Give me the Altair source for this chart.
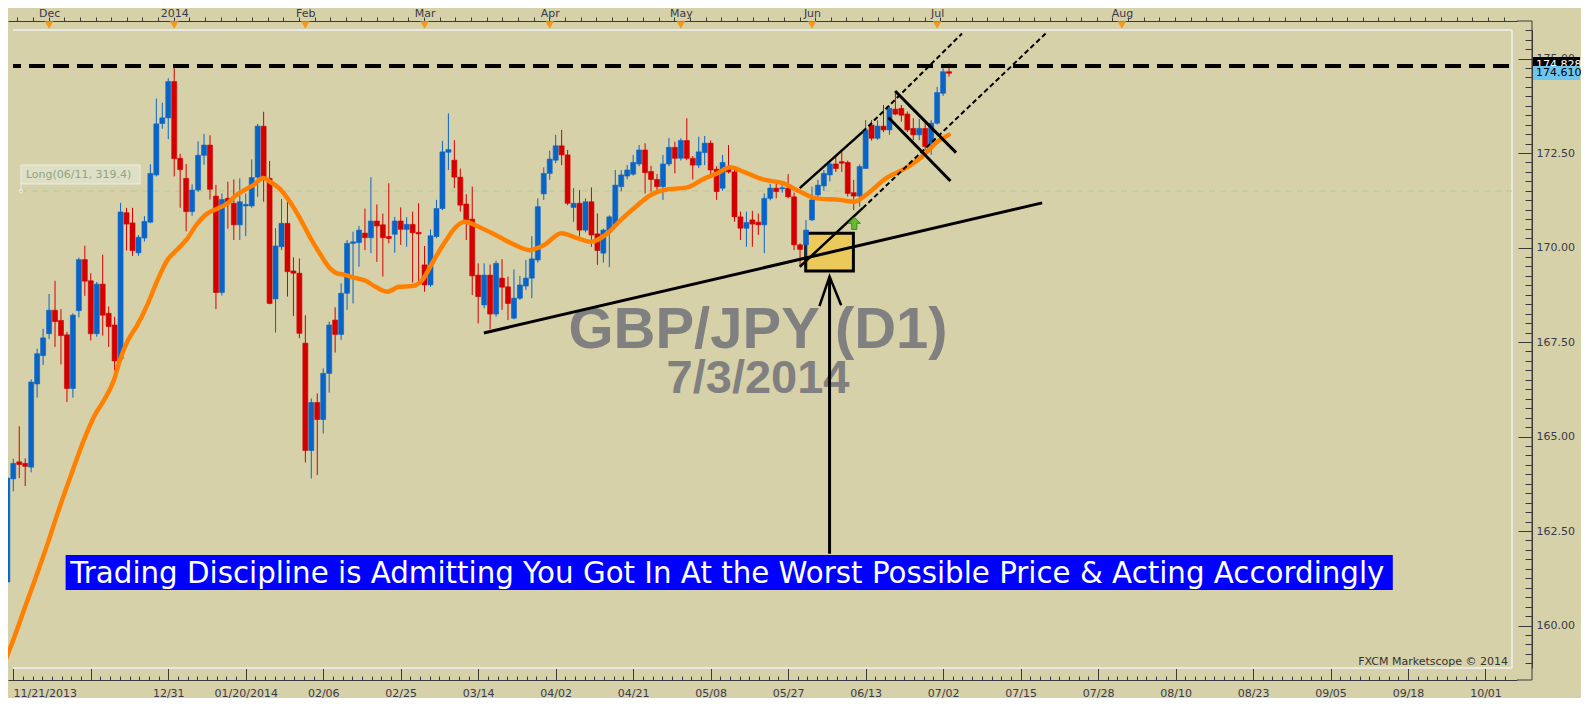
import altair as alt
import pandas as pd

# ---------------- data (GBP/JPY daily) ----------------
OPEN = [161.15, 163.88, 164.33, 164.29, 164.19, 166.39, 167.14, 167.72, 168.34, 168.07,
        167.69, 166.27, 168.33, 169.68, 169.12, 167.72, 169.03, 168.26, 167.95, 167.05,
        170.92, 170.65, 169.86, 170.25, 170.67, 171.92, 173.28, 173.43, 174.39, 172.36,
        171.83, 170.95, 171.52, 172.44, 172.71, 171.36, 168.81, 171.30, 171.17, 170.60,
        171.10, 171.10, 171.86, 173.21, 171.83, 168.64, 170.02, 170.64, 169.38, 169.32,
        167.47, 164.63, 165.90, 165.45, 166.67, 168.08, 167.70, 168.79, 170.11, 170.13,
        170.38, 170.26, 170.70, 170.60, 170.29, 170.35, 170.70, 170.48, 170.61, 170.40,
        169.54, 169.01, 170.29, 171.03, 172.52, 172.31, 171.86, 171.15, 170.75, 169.27,
        168.48, 169.27, 168.24, 169.19, 168.96, 168.13, 168.66, 168.98, 169.19, 169.67,
        171.42, 171.96, 172.31, 172.69, 172.45, 171.06, 171.17, 170.46, 171.21, 170.36,
        169.85, 170.42, 170.60, 171.61, 171.89, 171.94, 172.21, 172.58, 172.01, 171.80,
        171.61, 172.21, 172.65, 172.36, 172.83, 172.36, 172.18, 172.51, 172.76, 172.07,
        171.57, 172.10, 172.00, 170.81, 170.51, 170.73, 170.67, 170.60, 171.30, 171.57,
        171.55, 171.57, 171.34, 170.07, 170.07, 170.73, 171.39, 171.63, 171.92, 172.21,
        172.27, 172.25, 171.45, 171.36, 172.09, 173.24, 172.89, 173.21, 173.11, 173.66,
        173.68, 173.53, 173.15, 172.98, 173.15, 172.67, 173.29, 174.08, 174.65]
HIGH = [163.95, 164.41, 165.27, 164.42, 166.51, 167.32, 167.85, 168.77, 169.12, 168.37,
        167.77, 168.26, 169.73, 170.05, 169.32, 169.09, 169.81, 168.44, 168.17, 171.18,
        171.05, 171.05, 170.33, 170.83, 172.20, 173.94, 173.83, 174.48, 174.80, 172.48,
        172.21, 171.67, 172.81, 173.00, 172.97, 171.66, 171.43, 171.74, 171.80, 171.83,
        171.43, 172.33, 173.27, 173.59, 172.29, 170.51, 171.28, 171.21, 169.74, 169.71,
        168.21, 166.01, 166.14, 166.80, 168.04, 168.42, 169.05, 170.20, 170.42, 170.57,
        171.03, 171.86, 171.14, 170.90, 171.70, 170.81, 171.06, 170.80, 170.95, 171.17,
        170.04, 170.48, 171.26, 172.82, 173.55, 172.84, 172.09, 171.41, 171.61, 169.58,
        169.58, 169.55, 169.65, 169.69, 169.23, 169.42, 169.25, 169.67, 170.30, 171.30,
        172.12, 172.56, 172.98, 173.11, 172.58, 171.57, 171.52, 171.30, 171.59, 170.90,
        170.50, 170.85, 172.05, 172.05, 172.18, 172.45, 172.71, 172.76, 172.16, 171.94,
        172.45, 172.90, 172.80, 172.89, 173.42, 172.42, 172.93, 172.95, 172.83, 172.15,
        172.45, 172.71, 172.05, 170.95, 170.95, 170.97, 170.90, 171.43, 171.68, 171.68,
        171.65, 171.94, 171.45, 170.11, 170.73, 171.61, 171.79, 172.05, 172.31, 172.40,
        172.53, 172.30, 171.79, 172.20, 173.37, 173.37, 173.37, 173.77, 173.74, 174.08,
        173.77, 173.60, 173.42, 173.40, 173.30, 173.37, 174.25, 174.74, 174.87]
LOW = [160.95, 163.55, 163.90, 163.69, 164.05, 166.03, 166.89, 167.58, 167.37, 166.91,
       165.91, 166.03, 168.15, 168.72, 167.54, 167.64, 167.67, 167.37, 166.74, 167.00,
       169.92, 169.78, 169.78, 170.16, 170.64, 171.88, 173.14, 172.87, 171.88, 171.05,
       170.43, 170.84, 171.47, 172.19, 171.27, 168.37, 168.73, 170.50, 170.20, 170.20,
       170.30, 171.05, 171.34, 171.21, 168.50, 167.75, 169.93, 168.70, 168.19, 167.60,
       164.31, 163.89, 163.98, 165.08, 166.16, 167.22, 167.55, 168.35, 168.52, 169.49,
       169.93, 169.85, 169.62, 169.23, 170.11, 169.86, 170.07, 170.02, 169.07, 169.05,
       168.83, 168.96, 170.25, 170.99, 172.05, 171.57, 170.95, 170.20, 168.74, 167.99,
       168.39, 167.84, 168.17, 168.35, 168.08, 168.10, 168.61, 168.88, 168.66, 169.60,
       171.26, 171.79, 172.23, 172.18, 171.12, 170.68, 170.29, 170.40, 170.02, 169.54,
       169.60, 169.48, 170.55, 171.48, 171.80, 171.90, 172.15, 171.43, 171.48, 171.50,
       171.26, 172.15, 171.96, 172.30, 172.31, 171.80, 172.10, 172.18, 171.92, 171.26,
       171.50, 171.96, 170.68, 170.20, 170.02, 170.02, 170.33, 169.85, 171.25, 171.30,
       171.45, 171.30, 169.93, 169.50, 169.71, 170.70, 171.30, 171.50, 171.75, 172.00,
       172.00, 171.35, 170.99, 171.08, 172.09, 172.83, 172.85, 173.05, 172.98, 173.50,
       173.33, 173.05, 172.84, 172.84, 172.58, 172.45, 173.25, 174.01, 174.52]
CLOSE = [163.90, 164.29, 164.26, 164.21, 166.44, 167.19, 167.61, 168.34, 168.04, 167.67,
         166.27, 168.21, 169.68, 169.11, 167.72, 169.03, 168.21, 167.91, 167.00, 170.94,
         170.62, 169.92, 170.27, 170.69, 171.96, 173.27, 173.43, 174.39, 172.35, 172.06,
         170.95, 171.52, 172.44, 172.71, 171.54, 168.81, 171.27, 171.20, 170.60, 171.21,
         171.14, 171.85, 173.21, 171.86, 168.52, 170.04, 170.64, 169.36, 169.32, 167.73,
         164.63, 165.90, 165.45, 166.67, 167.95, 167.70, 168.79, 170.11, 170.15, 170.46,
         170.26, 170.70, 170.57, 170.26, 170.24, 170.70, 170.48, 170.61, 170.39, 170.36,
         169.01, 170.31, 171.03, 172.53, 172.59, 171.86, 171.12, 170.73, 169.25, 168.70,
         169.27, 168.24, 169.58, 168.95, 168.52, 168.66, 169.01, 169.19, 169.70, 171.08,
         171.96, 172.34, 172.69, 172.45, 171.17, 171.17, 170.46, 171.21, 170.33, 169.92,
         170.46, 170.81, 171.65, 171.92, 172.05, 172.25, 172.58, 171.98, 171.80, 171.61,
         172.21, 172.65, 172.36, 172.83, 172.36, 172.18, 172.53, 172.76, 172.05, 171.48,
         172.25, 172.00, 170.81, 170.51, 170.66, 170.62, 170.60, 171.30, 171.57, 171.48,
         171.58, 171.34, 170.07, 169.95, 170.46, 171.26, 171.65, 171.96, 172.21, 172.09,
         172.23, 171.43, 171.36, 172.14, 173.11, 172.89, 173.21, 173.11, 173.68, 173.53,
         173.50, 173.11, 172.98, 173.15, 172.67, 173.29, 174.10, 174.65, 174.61]

# moving average (orange): bar position and price
MA_IDX = [-0.38, 1.0, 3.0, 5.17, 6.83, 8.5, 10.73, 12.95, 14.62, 16.28, 17.95, 18.78, 20.12,
          21.78, 23.45, 25.12, 26.78, 28.45, 30.12, 31.78, 33.45, 35.12, 36.78, 38.45, 40.12,
          41.28, 42.95, 44.07, 45.73, 47.4, 49.07, 50.73, 52.4, 54.07, 55.12, 56.78, 57.95,
          60.12, 61.78, 63.78, 65.73, 67.95, 69.62, 71.28, 73.45, 75.12, 76.78, 79.07, 82.4,
          85.12, 87.62, 90.12, 92.95, 95.73, 97.95, 100.73, 102.95, 105.73, 107.95, 110.12,
          114.07, 116.78, 119.07, 121.28, 123.45, 126.78, 130.12, 132.95, 135.73, 139.62,
          142.12, 144.07, 147.4, 150.73, 153.45, 155.73, 157.95]
MA_VAL = [159.05, 159.62, 160.50, 161.45, 162.20, 163.00, 164.00, 164.95, 165.55, 165.98,
          166.52, 166.97, 167.51, 167.94, 168.47, 169.11, 169.65, 169.94, 170.22, 170.61,
          170.89, 171.02, 171.15, 171.39, 171.55, 171.65, 171.84, 171.74, 171.55, 171.21,
          170.78, 170.29, 169.85, 169.46, 169.33, 169.27, 169.21, 169.12, 168.96, 168.83,
          168.96, 168.98, 169.14, 169.59, 170.15, 170.52, 170.68, 170.55, 170.29, 170.07,
          169.93, 170.07, 170.38, 170.24, 170.15, 170.38, 170.73, 171.12, 171.39, 171.52,
          171.59, 171.81, 171.96, 172.12, 172.01, 171.80, 171.70, 171.48, 171.30, 171.26,
          171.21, 171.39, 171.83, 172.10, 172.40, 172.76, 172.98]

# ---------------- layout (x in bar positions, 6 px per bar) ----------------
W, H = 1509, 638
X0, X1 = 0.95, 252.45
Y0, Y1 = 158.876, 175.754

MONTH_IDX = [7, 28, 50, 70, 91, 113, 135, 156, 187]
MONTH_LABELS = ["Dec", "2014", "Feb", "Mar", "Apr", "May", "Jun", "Jul", "Aug"]
DATE_IDX = [X0, 27, 40, 53, 66, 79, 92, 105, 118, 131, 144, 157, 170, 183, 196, 209,
            222, 235, 248]
DATE_LABELS = ["11/21/2013", "12/31", "01/20/2014", "02/06", "02/25", "03/14", "04/02",
               "04/21", "05/08", "05/27", "06/13", "07/02", "07/15", "07/28", "08/10",
               "08/23", "09/05", "09/18", "10/01"]
PRICE_TICKS = [160.0, 162.5, 165.0, 167.5, 170.0, 172.5, 175.0]

RESIST_PRICE = 174.80
LONG_PRICE = 171.495
LAST_HIGH_TAG = "174.828"
LAST_TAG = "174.610"

# annotation drawing (bar position, price)
SUPPORT = [(79.95, 167.74), (173.62, 171.18)]
CH_UP_SOLID = [(132.95, 171.57), (143.5, 173.06)]
CH_LO_SOLID = [(132.95, 169.49), (143.5, 171.04)]
CH_UP_DASH = [(143.5, 173.06), (160.17, 175.66)]
CH_LO_DASH = [(143.5, 171.04), (174.2, 175.66)]
FLAG_TOP = [(148.95, 174.14), (159.17, 172.51)]
FLAG_BOT = [(147.83, 173.44), (158.23, 171.76)]
ARROW_SHAFT = [(137.95, 161.9), (137.95, 169.23)]
ARROW_HEAD = [(136.25, 168.45), (137.95, 169.23), (139.9, 168.47)]
BOX = (133.95, 141.95, 169.38, 170.38)
GREEN_ARROW = (142.1, 170.64)

BANNER_TEXT = ("Trading Discipline is Admitting You Got In At the Worst Possible Price "
               "& Acting Accordingly")

XS = alt.Scale(domain=[X0, X1], nice=False, zero=False)
YS = alt.Scale(domain=[Y0, Y1], nice=False, zero=False)

BG = "#D6D1A8"
AX = "#3A3A3A"
LBL = "#3A3A4A"
BLUE = "#0A64C8"
RED = "#D40000"
FONT = "DejaVu Sans"

N = len(OPEN)
candles = pd.DataFrame({"idx": list(range(N)), "o": OPEN, "h": HIGH, "l": LOW, "c": CLOSE})
candles["col"] = [BLUE if c >= o else RED for o, c in zip(OPEN, CLOSE)]
ma = pd.DataFrame({"idx": MA_IDX, "v": MA_VAL})

Y_MINOR = [round(159.0 + 0.25 * k, 2) for k in range(68)]
BOTTOM_MAJOR = [X0] + [14 + 13 * k for k in range(19)]
BOTTOM_MINOR = [14 - 1.625 * j for j in range(1, 9)] + [
    14 + 13 * k + 1.625 * j for k in range(19) for j in range(1, 8)
    if 14 + 13 * k + 1.625 * j <= X1]
TOP_MINOR = [round(1.667 + 2.625 * k, 3) for k in range(100) if 1.667 + 2.625 * k <= X1]


def lab_expr(vals, labels):
    av = "[" + ",".join(repr(v) for v in vals) + "]"
    al = "[" + ",".join("'" + s + "'" for s in labels) + "]"
    return f"indexof({av}, datum.value) >= 0 ? {al}[indexof({av}, datum.value)] : ''"


common = dict(grid=False, title=None, domainColor=AX, tickColor=AX, labelColor=LBL,
              labelFont=FONT, labelFontSize=11, domainWidth=1, tickWidth=1, zindex=0)

top_ticks_axis = alt.Axis(orient="top", offset=9, values=TOP_MINOR, labels=False,
                          tickSize=4, domain=True, **common)
top_label_axis = alt.Axis(orient="top", offset=9, values=MONTH_IDX, ticks=False, tickSize=0,
                          domain=False, labelPadding=4.5, labelBaseline="alphabetic",
                          labelOverlap=False, labelExpr=lab_expr(MONTH_IDX, MONTH_LABELS),
                          **common)
bottom_minor_axis = alt.Axis(orient="top", offset=-(H + 12), values=BOTTOM_MINOR,
                             labels=False, tickSize=4, domain=True, **common)
bottom_major_axis = alt.Axis(orient="top", offset=-(H + 12), values=BOTTOM_MAJOR,
                             labels=False, tickSize=12, domain=False, **common)
bottom_label_axis = alt.Axis(orient="bottom", offset=12, values=DATE_IDX, ticks=False,
                             tickSize=0, domain=False, labelPadding=7,
                             labelAlign={"condition": {"test": "datum.value < 2",
                                                       "value": "left"},
                                         "value": "center"},
                             labelOverlap=False, labelExpr=lab_expr(DATE_IDX, DATE_LABELS),
                             **common)
y_minor_axis = alt.Axis(orient="left", offset=-(W + 15), values=Y_MINOR, labels=False,
                        tickSize=7, domain=True, **common)
y_major_axis = alt.Axis(orient="left", offset=-(W + 15), values=PRICE_TICKS, labels=False,
                        tickSize=14, domain=False, **common)
y_label_axis = alt.Axis(orient="right", offset=15, values=PRICE_TICKS, ticks=False,
                        tickSize=0, domain=False, labelPadding=4, format=".2f",
                        labelOverlap=False, **common)


def xq(field, axis=None):
    return alt.X(f"{field}:Q", scale=XS, axis=axis)


def yq(field, axis=None):
    return alt.Y(f"{field}:Q", scale=YS, axis=axis)


def seg_df(points):
    return pd.DataFrame({"x": [p[0] for p in points], "y": [p[1] for p in points],
                         "k": list(range(len(points)))})


def line_layer(points, width=3, dash=None, color="black"):
    kw = dict(color=color, strokeWidth=width, clip=True, strokeCap="butt")
    if dash:
        kw["strokeDash"] = dash
    return alt.Chart(seg_df(points)).mark_line(**kw).encode(
        x=xq("x"), y=yq("y"), order="k:Q")


# plot border (top, bottom, right) - carries the long bottom ticks
border = pd.DataFrame({"x": [X0, X0, X1], "x2": [X1, X1, X1],
                       "y": [Y1, Y0, Y0], "y2": [Y1, Y0, Y1]})
border_layer = alt.Chart(border).mark_rule(color="#E9E9E4", strokeWidth=2).encode(
    x=xq("x", bottom_major_axis), x2="x2:Q", y=yq("y"), y2="y2:Q")

# frame pieces joining the top, right and bottom axis lines
frame = alt.layer(
    alt.Chart().mark_rule(color=AX, strokeWidth=1, clip=False).encode(
        x=alt.value(W), x2=alt.value(W + 15), y=alt.value(-9)),
    alt.Chart().mark_rule(color=AX, strokeWidth=1, clip=False).encode(
        x=alt.value(W), x2=alt.value(W + 15), y=alt.value(H + 12)),
    alt.Chart().mark_rule(color=AX, strokeWidth=1, clip=False).encode(
        x=alt.value(W + 15), y=alt.value(-9), y2=alt.value(H + 12)),
)

# Long position marker
long_line = alt.Chart(pd.DataFrame({"x": [2.283], "x2": [X1], "y": [LONG_PRICE]})).mark_rule(
    color="#AFCB98", strokeWidth=1, strokeDash=[6, 5]).encode(x=xq("x"), x2="x2:Q", y=yq("y"))
long_box = alt.Chart(pd.DataFrame({"x": [2.283], "x2": [22.283], "y": [171.68],
                                   "y2": [172.183]})).mark_rect(
    fill="#DDE0C4", stroke="#ECEEDD", strokeWidth=1).encode(
    x=xq("x"), x2="x2:Q", y=yq("y"), y2="y2:Q")
long_stem = alt.Chart(pd.DataFrame({"x": [2.283], "y": [LONG_PRICE], "y2": [171.68]})).mark_rule(
    color="#ECEEDD", strokeWidth=1).encode(x=xq("x"), y=yq("y"), y2="y2:Q")
long_dot = alt.Chart(pd.DataFrame({"x": [2.283], "y": [LONG_PRICE]})).mark_point(
    shape="circle", size=14, filled=False, color="#F2F4E6", strokeWidth=1).encode(
    x=xq("x"), y=yq("y"))
long_text = alt.Chart(pd.DataFrame({"x": [3.117], "y": [171.931],
                                    "t": ["Long(06/11, 319.4)"]})).mark_text(
    align="left", baseline="middle", font=FONT, fontSize=11, color="#90A386").encode(
    x=xq("x"), y=yq("y"), text="t:N")

# yellow entry box
box_layer = alt.Chart(pd.DataFrame({"x": [BOX[0]], "x2": [BOX[1]], "y": [BOX[2]],
                                    "y2": [BOX[3]]})).mark_rect(
    fill="#EBC95A", stroke="black", strokeWidth=3).encode(
    x=xq("x"), x2="x2:Q", y=yq("y"), y2="y2:Q")

# candles
wicks = alt.Chart(candles).mark_rule(strokeWidth=1, clip=True).encode(
    x=xq("idx", top_ticks_axis), y=yq("l", y_minor_axis), y2="h:Q",
    color=alt.Color("col:N", scale=None))
bodies = alt.Chart(candles).mark_bar(size=5, strokeWidth=0.6, clip=True).encode(
    x=xq("idx", bottom_label_axis), y=yq("o", y_label_axis), y2="c:Q",
    color=alt.Color("col:N", scale=None), stroke=alt.Stroke("col:N", scale=None))

ma_layer = alt.Chart(ma).mark_line(color="#FF8000", strokeWidth=4.5, strokeCap="round",
                                   strokeJoin="round", interpolate="monotone",
                                   clip=True).encode(
    x=xq("idx", bottom_minor_axis), y=yq("v", y_major_axis))

# watermark texts
big_text = alt.Chart(pd.DataFrame({"x": [125.95, 125.95], "y": [167.333, 166.143],
                                   "t": ["GBP/JPY (D1)", "7/3/2014"],
                                   "s": [58, 47]})).mark_text(
    align="center", baseline="alphabetic", font="Liberation Sans", fontWeight="bold",
    color="#808080").encode(x=xq("x"), y=yq("y"), text="t:N",
                            size=alt.Size("s:Q", scale=None, legend=None))

# trend lines
lines = [
    line_layer(SUPPORT, 3),
    line_layer(CH_UP_SOLID, 2.5),
    line_layer(CH_LO_SOLID, 2.5),
    line_layer(FLAG_TOP, 3),
    line_layer(FLAG_BOT, 3),
    line_layer(CH_UP_DASH, 2, [5, 3]),
    line_layer(CH_LO_DASH, 2, [5, 3]),
]
resist = alt.Chart(pd.DataFrame({"x": [X0], "x2": [X1], "y": [RESIST_PRICE]})).mark_rule(
    color="black", strokeWidth=4, strokeDash=[16, 8], strokeDashOffset=8).encode(
    x=xq("x"), x2="x2:Q", y=yq("y"))
arrow = [line_layer(ARROW_SHAFT, 3), line_layer(ARROW_HEAD, 2.5)]
green = alt.Chart(pd.DataFrame({"x": [GREEN_ARROW[0]], "y": [GREEN_ARROW[1]]})).mark_point(
    shape="M0,-1L1,0L0.42,0L0.42,1L-0.42,1L-0.42,0L-1,0Z", filled=True, size=150,
    fill="#66BB33", stroke="#3A8A1A", strokeWidth=1, opacity=1).encode(
    x=xq("x"), y=yq("y"))

# banner
banner = alt.Chart(pd.DataFrame({"x": [9.78], "x2": [232.45], "y": [160.939],
                                 "y2": [161.865]})).mark_rect(fill="#0000FF").encode(
    x=xq("x"), x2="x2:Q", y=yq("y"), y2="y2:Q")
banner_text = alt.Chart(pd.DataFrame({"x": [10.55], "y": [161.124],
                                      "t": [BANNER_TEXT]})).mark_text(
    align="left", baseline="alphabetic", font=FONT, fontSize=29.3, color="white").encode(
    x=xq("x"), y=yq("y"), text="t:N")

# price tags on the right axis
tag_rects = alt.Chart(pd.DataFrame({"y": [174.80], "y2": [175.04]})).mark_rect(
    color="#000000", clip=False).encode(x=alt.value(W + 16), x2=alt.value(W + 63),
                                        y=yq("y"), y2="y2:Q")
tag_black_text = alt.Chart(pd.DataFrame({"y": [174.83], "t": [LAST_HIGH_TAG]})).mark_text(
    align="left", baseline="middle", font=FONT, fontSize=11, color="white", clip=False).encode(
    x=alt.value(W + 19), y=yq("y"), text="t:N")
tag_blue_cover = alt.Chart(pd.DataFrame({"y": [174.43], "y2": [174.80]})).mark_rect(
    color="#6CC6F0", clip=False).encode(x=alt.value(W + 16), x2=alt.value(W + 63),
                                        y=yq("y"), y2="y2:Q")
tag_blue_text = alt.Chart(pd.DataFrame({"y": [174.62], "t": [LAST_TAG]})).mark_text(
    align="left", baseline="middle", font=FONT, fontSize=11, color="black", clip=False).encode(
    x=alt.value(W + 19), y=yq("y"), text="t:N")

# month markers on the top axis (carry the month labels)
tri = alt.Chart(pd.DataFrame({"idx": MONTH_IDX})).mark_point(
    shape="triangle-down", filled=True, size=75, color="#F39A1E", opacity=1,
    clip=False).encode(x=xq("idx", top_label_axis), y=alt.value(-5))

fxcm = alt.Chart(pd.DataFrame({"x": [251.78], "y": [158.955],
                               "t": ["FXCM Marketscope © 2014"]})).mark_text(
    align="right", baseline="alphabetic", font=FONT, fontSize=11, color="#333333").encode(
    x=xq("x"), y=yq("y"), text="t:N")

chart = alt.layer(
    border_layer, frame, long_line, long_stem, long_box, long_dot, long_text, box_layer,
    wicks, bodies, ma_layer, big_text, *lines, resist, *arrow, green,
    banner, banner_text, tag_rects, tag_black_text, tag_blue_cover, tag_blue_text,
    tri, fxcm,
).resolve_axis(x="independent", y="independent").properties(
    width=W, height=H, background=BG,
    autosize=alt.AutoSizeParams(type="none"),
    padding={"left": 0, "top": 22, "right": 64, "bottom": 30},
).configure_view(stroke="transparent")

chart.save("out.html", embed_options={"renderer": "svg", "actions": False})
